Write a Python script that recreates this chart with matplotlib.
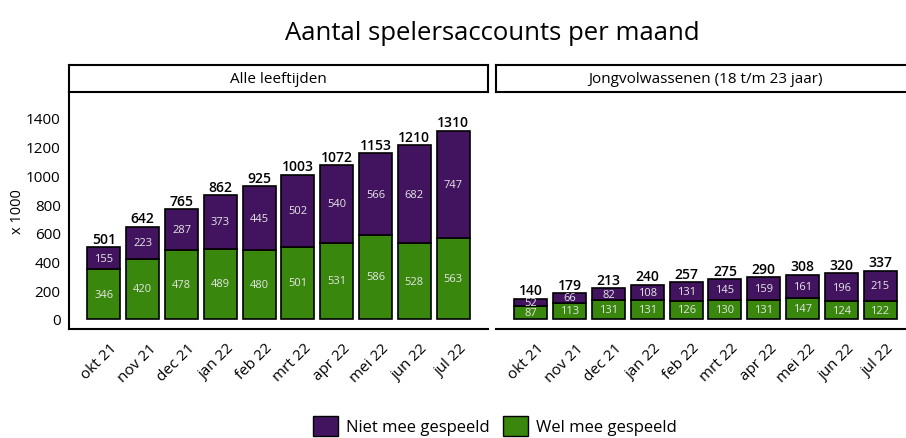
import matplotlib.pyplot as plt
from matplotlib.patches import Patch
import matplotlib.transforms as mtransforms
import numpy as np

plt.rcParams['font.family'] = ['Open Sans', 'DejaVu Sans']

maanden = ['okt 21', 'nov 21', 'dec 21', 'jan 22', 'feb 22', 'mrt 22',
           'apr 22', 'mei 22', 'jun 22', 'jul 22']

# Alle leeftijden (x 1000)
alle_wel = [346, 420, 478, 489, 480, 501, 531, 586, 528, 563]
alle_niet = [155, 223, 287, 373, 445, 502, 540, 566, 682, 747]
alle_totaal = [501, 642, 765, 862, 925, 1003, 1072, 1153, 1210, 1310]

# Jongvolwassenen 18 t/m 23 jaar (x 1000)
jong_wel = [87, 113, 131, 131, 126, 130, 131, 147, 124, 122]
jong_niet = [52, 66, 82, 108, 131, 145, 159, 161, 196, 215]
jong_totaal = [140, 179, 213, 240, 257, 275, 290, 308, 320, 337]

paars = '#42145f'
groen = '#39870c'

W, H = 906, 439
fig = plt.figure(figsize=(W / 100, H / 100), dpi=100)


def fx(px):
    return px / W


def fy(px):
    return 1 - px / H


def paneel(x0, x1, titel, wel, niet, totaal, linkerspine):
    ax = fig.add_axes([fx(x0), fy(330), fx(x1 - x0), (330 - 93) / H])
    x = np.arange(len(maanden))
    ax.bar(x, wel, width=0.85, color=groen, edgecolor='black', linewidth=1.2)
    ax.bar(x, niet, width=0.85, bottom=wel, color=paars, edgecolor='black', linewidth=1.2)
    for i in range(len(x)):
        ax.text(x[i], wel[i] / 2, str(wel[i]), ha='center', va='center',
                fontsize=8, color='#e6e6e6')
        ax.text(x[i], wel[i] + niet[i] / 2, str(niet[i]), ha='center', va='center',
                fontsize=8, color='#e6e6e6')
        ax.text(x[i], totaal[i] + 10, str(totaal[i]), ha='center', va='bottom',
                fontsize=10, color='black', fontweight='semibold')
    ax.set_xlim(-0.9, 9.9)
    ax.set_ylim(-70, 1580)
    ax.set_xticks(x)
    ax.set_xticklabels(maanden, rotation=45, ha='right', rotation_mode='anchor', fontsize=11)
    ax.tick_params(axis='x', length=0, pad=8)
    verschuif = mtransforms.ScaledTranslation(6 / 100, 0, fig.dpi_scale_trans)
    for lab in ax.get_xticklabels():
        lab.set_transform(lab.get_transform() + verschuif)
    ax.spines['top'].set_visible(False)
    ax.spines['right'].set_visible(False)
    ax.spines['bottom'].set_linewidth(1.5)
    if linkerspine:
        ax.spines['left'].set_linewidth(1.5)
        ax.set_yticks(range(0, 1401, 200))
        ax.tick_params(axis='y', length=0, pad=6, labelsize=11)
        ax.set_ylabel('x 1000', fontsize=10.5, labelpad=1)
    else:
        ax.spines['left'].set_visible(False)
        ax.set_yticks([])
    # strip boven het paneel
    strip = fig.add_axes([fx(x0), fy(93), fx(x1 - x0), (93 - 66) / H])
    strip.set_xticks([])
    strip.set_yticks([])
    for s in strip.spines.values():
        s.set_linewidth(1.5)
    strip.text(0.5, 0.5, titel, ha='center', va='center', fontsize=11,
               transform=strip.transAxes)
    return ax


ax1 = paneel(69, 488, 'Alle leeftijden', alle_wel, alle_niet, alle_totaal, True)
ax2 = paneel(496, 915, 'Jongvolwassenen (18 t/m 23 jaar)', jong_wel, jong_niet, jong_totaal, False)

fig.text(fx(492), fy(33), 'Aantal spelersaccounts per maand', ha='center', va='center',
         fontsize=18.5)

handles = [Patch(facecolor=paars, edgecolor='black', label='Niet mee gespeeld'),
           Patch(facecolor=groen, edgecolor='black', label='Wel mee gespeeld')]
fig.legend(handles=handles, loc='center', bbox_to_anchor=(fx(495), fy(427)), ncol=2,
           frameon=False, fontsize=12, handlelength=1.5, handleheight=1.5,
           handletextpad=0.5, columnspacing=0.8)

fig.savefig('out.png', dpi=100)
